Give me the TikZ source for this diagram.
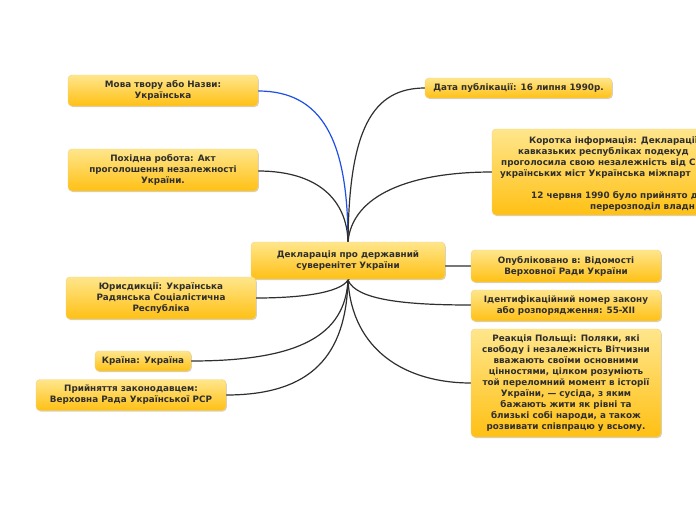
\documentclass[tikz,border=0pt]{standalone}
\usepackage{fontspec}
\setmainfont{DejaVu Sans}
\usetikzlibrary{shadows}
\definecolor{boxtop}{HTML}{FFE68C}
\definecolor{boxbot}{HTML}{FFC014}
\definecolor{boxedge}{HTML}{F6D27E}
\definecolor{txt}{HTML}{2E2E2E}
\definecolor{linegray}{HTML}{2F2F2F}
\definecolor{lineblue}{HTML}{1E4FE6}
\tikzset{
  topic/.style={rectangle, rounded corners=4pt, top color=boxtop, bottom color=boxbot,
    draw=boxedge, line width=0.4pt, align=center, text=txt, inner sep=1pt,
    font=\fontsize{8.8}{11}\selectfont\bfseries,
    drop shadow={shadow xshift=0.8pt, shadow yshift=-1pt, opacity=0.18, fill=black}},
  frag/.style={anchor=base west, inner sep=0pt, text=txt, font=\fontsize{8.8}{11}\selectfont\bfseries},
  conn/.style={draw=linegray, line width=1.2pt},
  connblue/.style={draw=lineblue, line width=1.2pt}
}
\begin{document}
\begin{tikzpicture}[x=1pt,y=-1pt]
\useasboundingbox (0,0) rectangle (696,520);
\clip (0,0) rectangle (696,520);
\fill[white] (0,0) rectangle (696,520);
% nodes placed first (coordinates only) so connectors can use their names
\path (348,260.5) coordinate (cc);
% connectors
\path[connblue] (348,242) .. controls (348,140) and (322,91) .. (258,91);
\path[conn] (348,242) .. controls (347,200) and (318,171) .. (258,171);
\path[conn] (348,242) .. controls (349,130) and (372,88) .. (425,88);
\path[conn] (348,242) .. controls (352,195) and (410,172) .. (492,172);
\path[conn] (348,280) .. controls (360,266) and (420,266) .. (471,266);
\path[conn] (348,280) .. controls (356,300) and (405,305) .. (471,305);
\path[conn] (348,280) .. controls (352,350) and (405,383) .. (471,383);
\path[conn] (348,280) .. controls (340,293) and (300,298) .. (256,298);
\path[conn] (348,280) .. controls (345,335) and (300,361) .. (191,361);
\path[conn] (348,280) .. controls (346,355) and (312,395) .. (226,395);
% nodes
\node[topic, minimum width=194pt, minimum height=37pt] (c) at (348,260.5) {Декларація про державний\\суверенітет України};
\node[topic, minimum width=190pt, minimum height=31pt] (m) at (163,90.5) {Мова твору або Назви:\\Українська};
\node[topic, minimum width=190pt, minimum height=42pt] (p) at (163,170) {Похідна робота: Акт\\проголошення незалежності\\України.};
\node[topic, minimum width=187pt, minimum height=20pt] (d) at (518.5,88) {Дата публікації: 16 липня 1990р.};
\node[topic, minimum width=240pt, minimum height=86pt] (k) at (612,172) {};
\node[frag] (k1) at (529,143) {Коротка інформація: Декларації};
\node[frag] (k2) at (518,154) {кавказьких республіках подекуд};
\node[frag] (k3) at (501,165) {проголосила свою незалежність від С};
\node[frag] (k4) at (500,176) {українських міст Українська міжпарт};
\node[frag] (k5) at (531,198) {12 червня 1990 було прийнято д};
\node[frag] (k6) at (590,209) {перерозподіл владн};
\node[topic, minimum width=190pt, minimum height=32pt] (o) at (566,266) {Опубліковано в: Відомості\\Верховної Ради України};
\node[topic, minimum width=190pt, minimum height=31pt] (i) at (566,305.5) {Ідентифікаційний номер закону\\або розпорядження: 55-XII};
\node[topic, minimum width=190pt, minimum height=108pt] (r) at (566,383) {Реакція Польщі: Поляки, які\\свободу і незалежність Вітчизни\\вважають своїми основними\\цінностями, цілком розуміють\\той переломний момент в історії\\України, — сусіда, з яким\\бажають жити як рівні та\\близькі собі народи, а також\\розвивати співпрацю у всьому.};
\node[topic, minimum width=190pt, minimum height=42pt] (y) at (161,298) {Юрисдикції: Українська\\Радянська Соціалістична\\Республіка};
\node[topic, minimum width=96pt, minimum height=20pt] (kr) at (143,361) {Країна: Україна};
\node[topic, minimum width=190pt, minimum height=31pt] (pr) at (131,395) {Прийняття законодавцем:\\Верховна Рада Української РСР};
\end{tikzpicture}
\end{document}
